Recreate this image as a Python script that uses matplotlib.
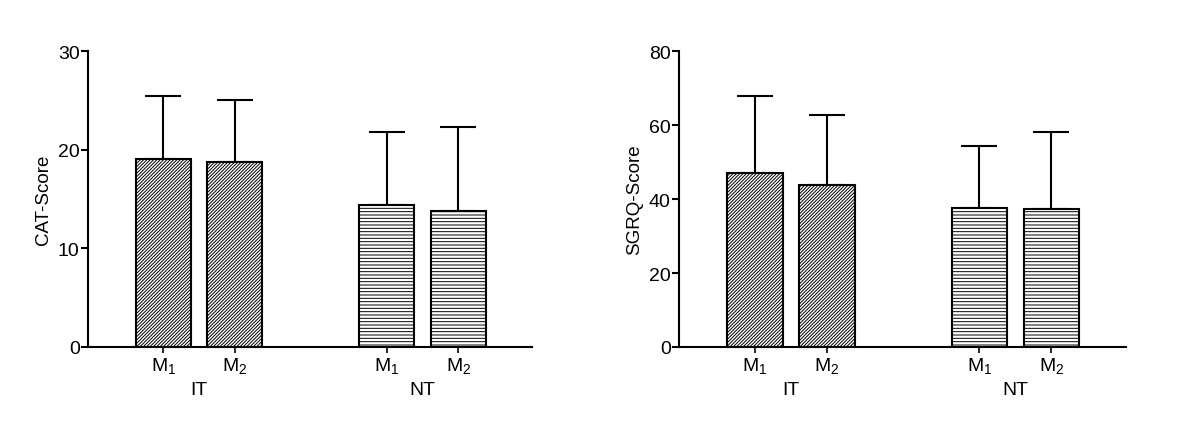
import numpy as np
import matplotlib.pyplot as plt

plt.rcParams['font.family'] = ['Liberation Sans', 'DejaVu Sans']
plt.rcParams['mathtext.fontset'] = 'custom'
plt.rcParams['mathtext.rm'] = 'Liberation Sans'
plt.rcParams['mathtext.it'] = 'Liberation Sans'
plt.rcParams['hatch.linewidth'] = 0.7

# data
groups = ['IT', 'NT']
measures = ['M$_1$', 'M$_2$']
cat_mean = [19.1, 18.8, 14.4, 13.8]
cat_err = [6.4, 6.3, 7.4, 8.5]
sgrq_mean = [47.0, 43.8, 37.6, 37.3]
sgrq_err = [20.8, 18.9, 16.7, 20.8]
hatches = ['//////////', '//////////', '-----', '-----']

fig = plt.figure(figsize=(12, 4.35), dpi=100)

x = np.array([1.05, 2.05, 4.17, 5.17])
group_x = [(x[0] + x[1]) / 2, (x[2] + x[3]) / 2]


def draw(ax, means, errs, ylabel, ymax, step):
    for i in range(len(x)):
        ax.bar(x[i], means[i], width=0.77, color='white', edgecolor='black',
               linewidth=1.5, hatch=hatches[i], zorder=2)
    ax.errorbar(x, means, yerr=[np.zeros(len(errs)), errs], fmt='none',
                ecolor='black', elinewidth=1.5, capsize=13, capthick=1.5, zorder=1)
    ax.set_xlim(0, 6.2)
    ax.set_ylim(0, ymax)
    ax.set_yticks(np.arange(0, ymax + 1, step))
    ax.set_xticks(x)
    ax.set_xticklabels(measures * 2, fontsize=14)
    ax.set_ylabel(ylabel, fontsize=13.5, labelpad=4)
    for g, gx in zip(groups, group_x):
        ax.text(gx, -0.115, g, transform=ax.get_xaxis_transform(),
                ha='center', va='top', fontsize=14)
    ax.spines['top'].set_visible(False)
    ax.spines['right'].set_visible(False)
    ax.spines['left'].set_linewidth(1.5)
    ax.spines['bottom'].set_linewidth(1.5)
    ax.tick_params(axis='y', length=5, width=1.5, labelsize=14, pad=1)
    ax.tick_params(axis='x', length=4, width=1.2, pad=2)


ax1 = fig.add_axes([0.0733, 0.2, 0.37, 0.68])
draw(ax1, cat_mean, cat_err, 'CAT-Score', 30, 10)

ax2 = fig.add_axes([0.566, 0.2, 0.372, 0.68])
draw(ax2, sgrq_mean, sgrq_err, 'SGRQ-Score', 80, 20)

plt.savefig('out.png', dpi=100)
